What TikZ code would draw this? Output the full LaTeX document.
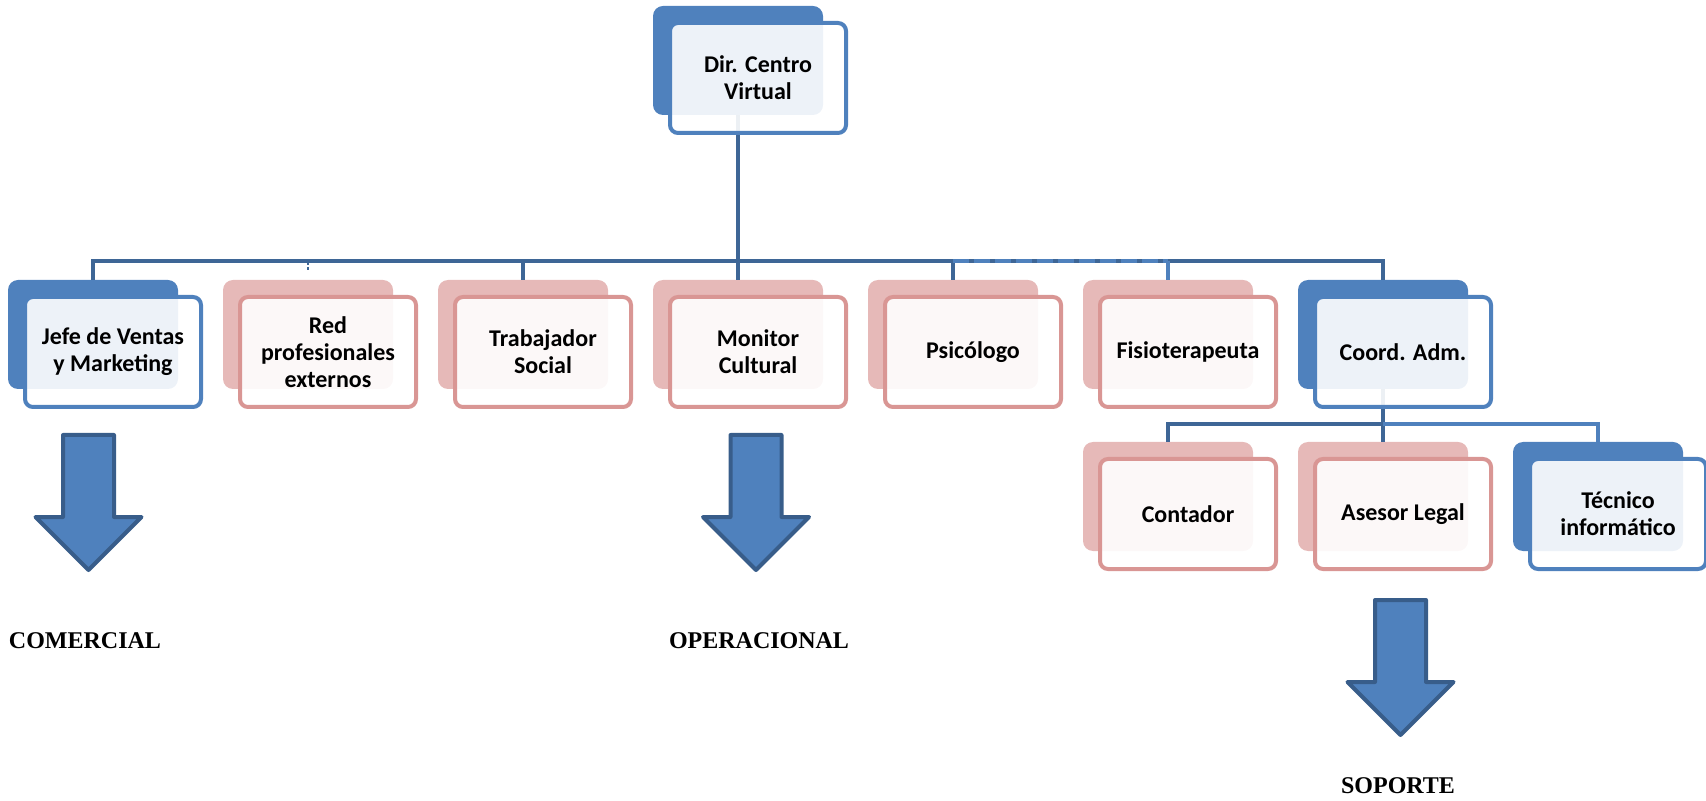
\documentclass[tikz,border=0pt]{standalone}
\usepackage{fontspec}
\setmainfont{Liberation Serif}
\newfontfamily\calibri{Carlito}
\usetikzlibrary{positioning,backgrounds}
\definecolor{azul}{HTML}{4F81BD}
\definecolor{rosa}{HTML}{E6B9B8}
\definecolor{rosaborde}{HTML}{D99694}
\definecolor{azuloscuro}{HTML}{3E6696}
\definecolor{bordeflecha}{HTML}{385D8A}
\tikzset{
	node distance = 80pt and 17.5pt,% vertical gap dir -> fila, gap between boxes
	caja/.style = {rectangle, rounded corners=4pt, line width=2pt, minimum width=88pt, minimum height=55pt, inner sep=2pt, align=center, fill=white, fill opacity=0.9, text opacity=1, font=\calibri\bfseries\fontsize{12}{13.5}\selectfont},
	caja azul/.style = {caja, draw=azul},
	caja rosa/.style = {caja, draw=rosaborde},
	conexion/.style = {line width=2.2pt, draw=azuloscuro},
	claro/.style = {draw=azul},
	flecha/.style = {fill=azul, draw=bordeflecha, line width=2pt, line join=round},
	etiqueta/.style = {font=\bfseries\fontsize{12}{14}\selectfont}
}
% big block arrow pointing down, #1 = top centre
\newcommand{\flecha}[1]{\draw[flecha] ([xshift=-12.75pt]#1) -- ++(0,-41pt) -- ++(-13.75pt,0) -- ++(26.5pt,-26.5pt) -- ++(26.5pt,26.5pt) -- ++(-13.75pt,0) -- ++(0,41pt) -- cycle;}

\begin{document}
\begin{tikzpicture}
            \useasboundingbox (0,0) rectangle (853pt,-400.5pt);
            \node[caja azul] (dir) at (379pt,-39pt) {Dir. Centro\\Virtual};
            \node[caja rosa] (monitor) [below=of dir] {Monitor\\Cultural};
            \node[caja rosa] (trab) [left=of monitor] {Trabajador\\Social};
            \node[caja rosa] (red) [left=of trab] {Red\\profesionales\\externos};
            \node[caja azul] (jefe) [left=of red] {Jefe de Ventas\\y Marketing};
            \node[caja rosa] (psico) [right=of monitor] {Psicólogo};
            \node[caja rosa] (fisio) [right=of psico] {Fisioterapeuta};
            \node[caja azul] (coord) [right=of fisio] {Coord. Adm.};
            \node[caja rosa] (asesor) [below=24pt of coord] {Asesor Legal};
            \node[caja rosa] (conta) [left=of asesor] {Contador};
            \node[caja azul] (tecnico) [right=of asesor] {Técnico\\informático};
            \coordinate (bus) at ([yshift=17pt]monitor.north);
            \coordinate (bus2) at ([yshift=16.5pt]asesor.north);
            \begin{scope}[on background layer]
                \foreach \n/\c in {dir/azul, jefe/azul, red/rosa, trab/rosa, monitor/rosa, psico/rosa, fisio/rosa, coord/azul, conta/rosa, asesor/rosa, tecnico/azul}
                    \fill[\c, rounded corners=5pt] ([shift={(-7.5pt,7.5pt)}]\n.north west) rectangle ([shift={(-12.5pt,10pt)}]\n.south east);
                % first level
                \draw[conexion] ([shift={(-10pt,10pt)}]dir.south) -- ([xshift=-10pt]dir.south |- bus);
                \draw[conexion] ([shift={(-10pt,7.5pt)}]jefe.north) |- ([xshift=-10pt]coord.north |- bus) -- ([shift={(-10pt,7.5pt)}]coord.north);
                \foreach \n in {trab, monitor, psico}
                    \draw[conexion] ([xshift=-10pt]\n.north |- bus) -- ([shift={(-10pt,7.5pt)}]\n.north);
                \draw[conexion, claro, dash pattern=on 8pt off 2.5pt] ([xshift=-10pt]psico.north |- bus) -- ([xshift=-10pt]fisio.north |- bus);
                \draw[conexion, claro, line width=1.6pt] ([xshift=-10pt]fisio.north |- bus) -- ([shift={(-10pt,7.5pt)}]fisio.north);
                \draw[conexion, line width=1pt, dash pattern=on 2pt off 1pt] ([xshift=-10pt]red.north |- bus) -- ++(0,-4.5pt);
                % second level
                \draw[conexion] ([shift={(-10pt,10pt)}]coord.south) -- ([shift={(-10pt,7.5pt)}]asesor.north);
                \draw[conexion] ([shift={(-10pt,7.5pt)}]conta.north) |- ([xshift=-10pt]asesor.north |- bus2);
                \draw[conexion, claro] ([xshift=-10pt]asesor.north |- bus2) -| ([shift={(-10pt,7.5pt)}]tecnico.north);
            \end{scope}
            \coordinate (fl-com) at ([shift={(-12.25pt,-13pt)}]jefe.south);
            \coordinate (fl-op) at ([shift={(-1pt,-13pt)}]monitor.south);
            \coordinate (fl-sop) at ([shift={(-1.25pt,-14.5pt)}]asesor.south);
            \flecha{fl-com}
            \flecha{fl-op}
            \flecha{fl-sop}
            \node[etiqueta] (comercial) at ([shift={(-1.75pt,-103pt)}]fl-com) {COMERCIAL};
            \node[etiqueta] (operacional) at ([shift={(1.5pt,-103pt)}]fl-op) {OPERACIONAL};
            \node[etiqueta] (soporte) at ([shift={(-1.25pt,-93pt)}]fl-sop) {SOPORTE};
        \end{tikzpicture}
\end{document}
